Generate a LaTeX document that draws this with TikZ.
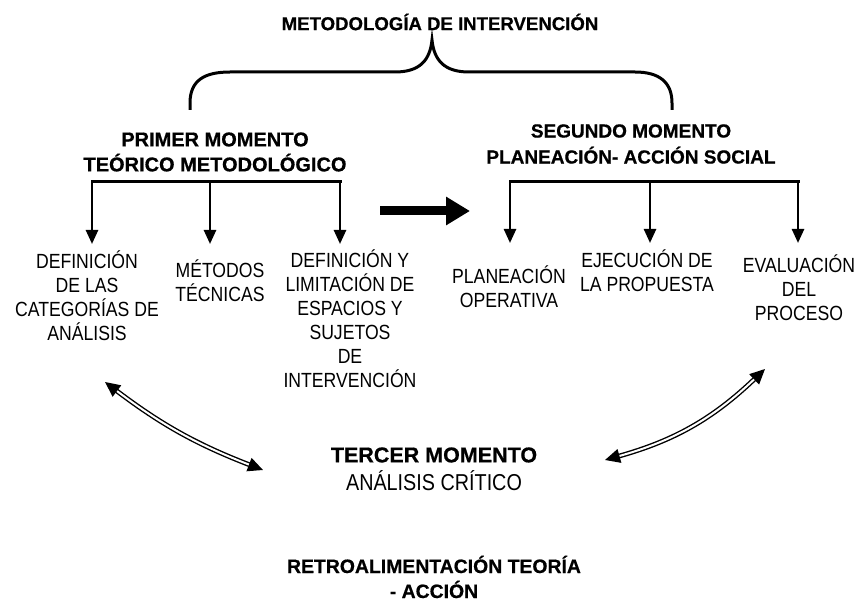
\documentclass[tikz,border=0pt]{standalone}
\usepackage{fontspec}
\setmainfont{Liberation Sans}[BoldFeatures={FakeBold=0.6}]
\newfontfamily\condfont{Liberation Sans}[FakeStretch=0.86]
\usetikzlibrary{arrows.meta}
\tikzset{
  heading/.style={font=\bfseries\fontsize{18.6}{25}\selectfont, align=center, inner sep=0pt},
  item/.style={font=\condfont\fontsize{20.5}{24}\selectfont, align=center, inner sep=0pt},
  bar/.style={line width=3pt, line cap=rect},
  drop/.style={line width=2.5pt, -{Triangle[length=14pt,width=12pt]}},
  twoway/.style={double, line width=1.4pt, double distance=2pt,
    {Triangle[length=15pt,width=14pt]}-{Triangle[length=15pt,width=14pt]}},
}
\begin{document}
\begin{tikzpicture}[x=1pt,y=-1pt]
\useasboundingbox (0,0) rectangle (857,601);
% titles
\node[heading] (metodo) at (440,22) {METODOLOGÍA DE INTERVENCIÓN};
\node[heading, font=\bfseries\fontsize{20}{25}\selectfont] (primer) at (215,152) {PRIMER MOMENTO\\TEÓRICO METODOLÓGICO};
\node[heading, font=\bfseries\fontsize{19}{26}\selectfont] (segundo) at (631,144) {SEGUNDO MOMENTO\\PLANEACIÓN- ACCIÓN SOCIAL};
% brace
\draw[line width=3pt] (190,110) -- (190,103) .. controls (190,80) and (205,72) .. (230,72)
  -- (395,72) .. controls (420,72) and (430,60) .. (432,40)
  .. controls (434,60) and (444,72) .. (469,72)
  -- (635,72) .. controls (659,72) and (672,82) .. (672,103) -- (672,110);
% first moment
\node[item] (categ) at (87,296) {DEFINICIÓN\\DE LAS\\CATEGORÍAS DE\\ANÁLISIS};
\node[item] (metod) at (220,281) {MÉTODOS\\TÉCNICAS};
\node[item] (espac) at (350,319) {DEFINICIÓN Y\\LIMITACIÓN DE\\ESPACIOS Y\\SUJETOS\\DE\\INTERVENCIÓN};
\foreach \n/\x in {1/92,2/210,3/340} {
  \coordinate (lb\n) at (\x,182);
  \coordinate (lt\n) at (\x,244);
}
\draw[bar] (lb1) -- (lb3);
\foreach \n in {1,2,3} \draw[drop] (lb\n) -- (lt\n);
% second moment
\node[item] (planea) at (509,287) {PLANEACIÓN\\OPERATIVA};
\node[item] (ejecu) at (647,271) {EJECUCIÓN DE\\LA PROPUESTA};
\node[item] (evalu) at (799,288) {EVALUACIÓN\\DEL\\PROCESO};
\foreach \n/\x in {1/510,2/650,3/798} {
  \coordinate (rb\n) at (\x,182);
  \coordinate (rt\n) at (\x,243);
}
\draw[bar] (rb1) -- (rb3);
\foreach \n in {1,2,3} \draw[drop] (rb\n) -- (rt\n);
% big arrow
\coordinate (ga) at (380,211);
\coordinate (gb) at (470,211);
\draw[line width=9pt, -{Triangle[length=24pt,width=27pt]}] (ga) -- (gb);
% third moment
\node[item, font=\condfont\fontsize{23}{28}\selectfont] (tercer) at (434,469)
  {{\rmfamily\bfseries\fontsize{21.5}{28}\selectfont TERCER MOMENTO}\\ANÁLISIS CRÍTICO};
\coordinate (ca) at (105,382);
\coordinate (cb) at (263,470);
\coordinate (ea) at (765,369);
\coordinate (eb) at (605,460);
\draw[twoway] (ca) to[bend right=8] (cb);
\draw[twoway] (ea) to[bend left=14] (eb);
\node[heading, font=\bfseries\fontsize{19.4}{25}\selectfont] (retro) at (434,577) {RETROALIMENTACIÓN TEORÍA\\- ACCIÓN};
\end{tikzpicture}
\end{document}
